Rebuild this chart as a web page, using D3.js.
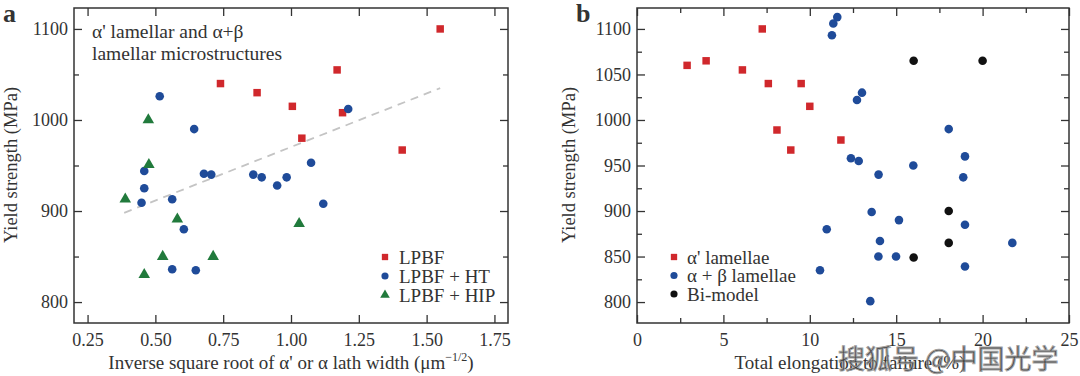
<!DOCTYPE html>
<html>
<head>
<meta charset="utf-8">
<script src="https://cdn.jsdelivr.net/npm/d3@7"></script>
<style>
  body { margin: 0; background: #fff; }
  svg { display: block; }
  text { font-family: "Liberation Serif", "Times New Roman", "DejaVu Serif", serif; fill: #333; }
</style>
</head>
<body>
<svg id="chart" width="1080" height="376"></svg>
<script>
// panel a : yield strength vs inverse sqrt of lath width
var lpbfA = [[0.74,1040],[0.875,1030],[1.005,1015],[1.04,980],[1.17,1055],[1.19,1008],[1.41,967],[1.55,1100]];
var htA = [[0.516,1026],[0.643,990],[0.459,944],[0.459,925],[0.449,909],[0.562,913],[0.605,880],[0.562,836],
           [0.649,835],[0.679,941],[0.706,940],[0.861,940],[0.892,937],[0.949,928],[0.984,937],[1.074,953],
           [1.119,908],[1.211,1012]];
var hipA = [[0.389,913],[0.474,1000],[0.476,951],[0.459,830],[0.527,850],[0.581,891],[0.713,850],[1.03,886]];
var fitA = [[0.385,898],[1.55,1035]];

// panel b : yield strength vs total elongation
var alphaB = [[2.9,1060],[4.0,1065],[6.1,1055],[7.25,1100],[7.6,1040],[9.5,1040],[10.0,1015],[8.1,989],[8.9,967],[11.8,978]];
var abB = [[11.59,1113],[11.36,1106],[11.28,1093],[13.02,1030],[12.73,1022],[18.04,990],[18.98,960],[12.38,958],
           [12.83,955],[15.99,950],[13.98,940],[18.88,937],[13.58,899],[15.16,890],[18.98,885],[10.98,880],
           [14.06,867],[21.72,865],[13.97,850],[14.99,850],[18.98,839],[10.59,835],[13.5,801]];
var biB = [[16.01,1065],[20.0,1065],[18.04,900],[18.04,865],[16.01,849]];

var ticksXA = [0.25,0.5,0.75,1.0,1.25,1.5,1.75];
var ticksYA = [800,900,1000,1100];
var minorYA = [850,950,1050];
var ticksXB = [0,5,10,15,20,25];
var minorXB = [2.5,7.5,12.5,17.5,22.5];
var ticksYB = [800,850,900,950,1000,1050,1100];
var minorYB = [825,875,925,975,1025,1075];

var legendA = ["LPBF","LPBF + HT","LPBF + HIP"];
var legendB = ["\u03b1' lamellae","\u03b1 + \u03b2 lamellae","Bi-model"];

var RED = "#d0282c", BLUE = "#1f4b99", GREEN = "#217a3c", BLACK = "#111";
var SERIF = "'Liberation Serif', 'Times New Roman', serif";

var svg = d3.select("#chart");

function panel(opt) {
  var x = d3.scaleLinear().domain(opt.xd).range([opt.left, opt.right]);
  var y = d3.scaleLinear().domain([777,1123]).range([323, 8]);
  var g = svg.append("g");

  function ax(gen, tr, vals, size, fmt) {
    var a = g.append("g").attr("transform", tr)
      .call(gen.tickValues(vals).tickSizeInner(size).tickSizeOuter(0).tickPadding(6).tickFormat(fmt));
    a.select(".domain").remove();
    a.selectAll("line").attr("stroke", "#333").attr("stroke-width", 1.3);
    a.selectAll("text").style("font-size", "18px").attr("fill", "#333")
      .style("font-family", SERIF);
    return a;
  }
  var none = function(){ return ""; };
  // bottom / top
  ax(d3.axisBottom(x), "translate(0,323)", opt.tx, -8, opt.fx).selectAll("text").attr("dy", "0.95em");
  ax(d3.axisTop(x), "translate(0,8)", opt.tx, -8, none);
  if (opt.mx) {
    ax(d3.axisBottom(x), "translate(0,323)", opt.mx, -5, none);
    ax(d3.axisTop(x), "translate(0,8)", opt.mx, -5, none);
  }
  ax(d3.axisLeft(y), "translate(" + opt.left + ",0)", opt.ty, -8, d3.format("d"));
  ax(d3.axisRight(y), "translate(" + opt.right + ",0)", opt.ty, -8, none);
  ax(d3.axisLeft(y), "translate(" + opt.left + ",0)", opt.my, -5, none);
  ax(d3.axisRight(y), "translate(" + opt.right + ",0)", opt.my, -5, none);

  g.append("rect")
    .attr("x", opt.left).attr("y", 8)
    .attr("width", opt.right - opt.left).attr("height", 315)
    .attr("fill", "none").attr("stroke", "#333").attr("stroke-width", 1.5);

  // y label
  g.append("text")
    .attr("transform", "translate(" + opt.ylx + ",165) rotate(-90)")
    .attr("text-anchor", "middle").attr("dy", "0.35em")
    .style("font-size", "18.5px")
    .text("Yield strength (MPa)");

  // panel letter
  g.append("text").attr("x", opt.letterX).attr("y", 22)
    .style("font-size", "26px").style("font-weight", "bold").attr("fill", "#111")
    .text(opt.letter);

  return {x: x, y: y, g: g};
}

function drawSym(g, data, x, y, type, size, color) {
  g.selectAll(null).data(data).enter().append("path")
    .attr("transform", function(d){ return "translate(" + x(d[0]) + "," + y(d[1]) + ")"; })
    .attr("d", d3.symbol().type(type).size(size))
    .attr("fill", color);
}

// ---- panel a
var pa = panel({left: 74, right: 508, xd: [0.2,1.8], tx: ticksXA, mx: null, fx: d3.format(".2f"),
                ty: ticksYA, my: minorYA, ylx: 11, letter: "a", letterX: 3});

pa.g.append("path")
  .datum(fitA)
  .attr("d", d3.line().x(function(d){return pa.x(d[0]);}).y(function(d){return pa.y(d[1]);}))
  .attr("fill", "none").attr("stroke", "#c4c4c4").attr("stroke-width", 1.8)
  .attr("stroke-dasharray", "8,6");

drawSym(pa.g, lpbfA, pa.x, pa.y, d3.symbolSquare, 56, RED);
drawSym(pa.g, htA, pa.x, pa.y, d3.symbolCircle, 58, BLUE);
drawSym(pa.g, hipA, pa.x, pa.y, d3.symbolTriangle, 58, GREEN);

pa.g.append("text").attr("x", 92).attr("y", 38).style("font-size", "19.5px")
  .text("\u03b1' lamellar and \u03b1+\u03b2");
pa.g.append("text").attr("x", 92).attr("y", 60).style("font-size", "19.5px")
  .text("lamellar microstructures");

var xlab = pa.g.append("text").attr("x", 291).attr("y", 369).attr("text-anchor", "middle")
  .style("font-size", "19px");
xlab.append("tspan").text("Inverse square root of \u03b1' or \u03b1 lath width (\u03bcm");
xlab.append("tspan").attr("dy", -8).style("font-size", "12px").text("\u22121/2");
xlab.append("tspan").attr("dy", 8).text(")");

var legATypes = [[d3.symbolSquare, RED], [d3.symbolCircle, BLUE], [d3.symbolTriangle, GREEN]];
legendA.forEach(function(t, i) {
  var yy = 257 + i * 19;
  pa.g.append("path").attr("transform", "translate(385," + yy + ")")
    .attr("d", d3.symbol().type(legATypes[i][0]).size(40)).attr("fill", legATypes[i][1]);
  pa.g.append("text").attr("x", 399).attr("y", yy).attr("dy", "0.35em")
    .style("font-size", "19px").text(t);
});

// ---- panel b
var pb = panel({left: 637, right: 1069, xd: [0,25], tx: ticksXB, mx: minorXB, fx: d3.format("d"),
                ty: ticksYB, my: minorYB, ylx: 569, letter: "b", letterX: 576});

drawSym(pb.g, alphaB, pb.x, pb.y, d3.symbolSquare, 56, RED);
drawSym(pb.g, abB, pb.x, pb.y, d3.symbolCircle, 58, BLUE);
drawSym(pb.g, biB, pb.x, pb.y, d3.symbolCircle, 58, BLACK);

var legBTypes = [[d3.symbolSquare, RED], [d3.symbolCircle, BLUE], [d3.symbolCircle, BLACK]];
legendB.forEach(function(t, i) {
  var yy = 257 + i * 18.5;
  pb.g.append("path").attr("transform", "translate(674," + yy + ")")
    .attr("d", d3.symbol().type(legBTypes[i][0]).size(40)).attr("fill", legBTypes[i][1]);
  pb.g.append("text").attr("x", 687).attr("y", yy).attr("dy", "0.35em")
    .style("font-size", "19px").text(t);
});

pb.g.append("text").attr("x", 850).attr("y", 369).attr("text-anchor", "middle")
  .style("font-size", "19px").text("Total elongation to failure (%)");

// watermark
svg.append("text").attr("x", 838).attr("y", 369)
  .style("font-family", "'Noto Sans CJK SC', sans-serif").style("font-size", "27px")
  .attr("fill", "#fff").attr("stroke", "#9a9a9a").attr("stroke-width", 1)
  .attr("opacity", 0.9)
  .text("\u641c\u72d0\u53f7 @\u4e2d\u56fd\u5149\u5b66");
</script>
</body>
</html>
